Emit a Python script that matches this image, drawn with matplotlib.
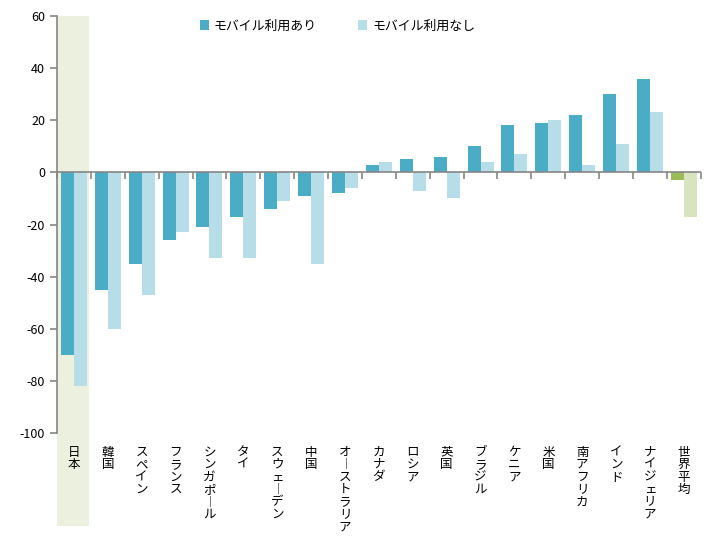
import matplotlib
matplotlib.use("Agg")
import matplotlib.pyplot as plt
import matplotlib.transforms as mtransforms
from matplotlib.patches import Patch, Rectangle
from matplotlib.lines import TICKDOWN
import numpy as np

plt.rcParams["font.family"] = ["Noto Sans CJK JP", "DejaVu Sans"]
plt.rcParams["axes.unicode_minus"] = False

countries = ["日本", "韓国", "スペイン", "フランス", "シンガポール", "タイ", "スウェーデン",
             "中国", "オーストラリア", "カナダ", "ロシア", "英国", "ブラジル", "ケニア",
             "米国", "南アフリカ", "インド", "ナイジェリア", "世界平均"]
with_mobile = [-70, -45, -35, -26, -21, -17, -14, -9, -8, 3, 5, 6, 10, 18, 19, 22, 30, 36, -3]
without_mobile = [-82, -60, -47, -23, -33, -33, -11, -35, -6, 4, -7, -10, 4, 7, 20, 3, 11, 23, -17]
series_names = ["モバイル利用あり", "モバイル利用なし"]

dark = "#4BACC6"
light = "#B7DEE8"
avg_dark = "#9BBB59"
avg_light = "#D7E4BD"
axis_grey = "#868686"


def vertical(s):
    # stack characters top to bottom, long vowel mark drawn upright
    return "\n".join("︱" if c == "ー" else c for c in s)


fig = plt.figure(figsize=(7.21, 5.54), dpi=100)
ax = fig.add_axes([0.079, 0.2184, 0.893, 0.7527])

x = np.arange(len(countries))
w = 0.385
c_dark = [dark] * (len(countries) - 1) + [avg_dark]
c_light = [light] * (len(countries) - 1) + [avg_light]

# highlight band for Japan, running down behind the label
trans = mtransforms.blended_transform_factory(ax.transData, ax.transAxes)
ax.add_patch(Rectangle((-0.5, -0.222), 0.945, 1.222, transform=trans,
                       facecolor="#EBF1DE", edgecolor="none", clip_on=False, zorder=0))

ax.bar(x - w / 2, with_mobile, w, color=c_dark, zorder=2)
ax.bar(x + w / 2, without_mobile, w, color=c_light, zorder=2)

ax.set_xlim(-0.5, len(countries) - 0.5)
ax.set_ylim(-100, 60)
ax.set_yticks(np.arange(-100, 61, 20))

# zero line with category tick marks
ax.axhline(0, color=axis_grey, lw=1.2, zorder=3)
bounds = np.arange(-0.5, len(countries), 1.0)
ax.plot(bounds, np.zeros_like(bounds), ls="none", marker=TICKDOWN,
        markersize=5, markeredgewidth=1.2, color=axis_grey, zorder=3, clip_on=False)

for s in ["top", "right", "bottom"]:
    ax.spines[s].set_visible(False)
ax.spines["left"].set_color(axis_grey)
ax.spines["left"].set_linewidth(1.2)
ax.tick_params(axis="y", colors=axis_grey, length=5, width=1.2, labelsize=9, labelcolor="black")

ax.set_xticks(x)
ax.set_xticklabels([vertical(c) for c in countries], fontsize=9, linespacing=0.95,
                   va="top", ha="center")
ax.tick_params(axis="x", length=0, pad=9)

handles = [Patch(facecolor=dark), Patch(facecolor=light)]
fig.legend(handles, series_names, loc="center", bbox_to_anchor=(0.468, 0.953), ncol=2,
           frameon=False, fontsize=9.3, handlelength=0.7, handleheight=0.7,
           handletextpad=0.4, columnspacing=3.2)

fig.savefig("out.png", dpi=100)
